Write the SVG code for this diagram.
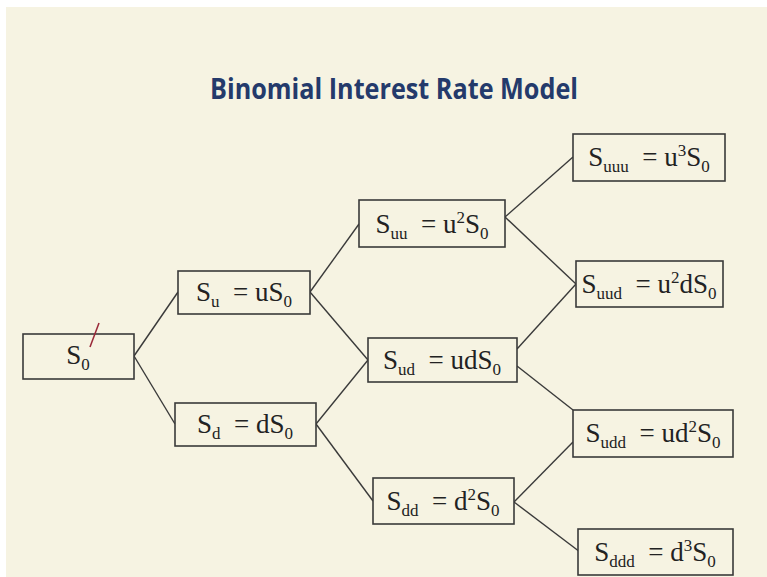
<svg xmlns="http://www.w3.org/2000/svg" width="767" height="577" viewBox="0 0 767 577">
<style>
.bg{fill:#f6f3e2}
.box{fill:#f6f3e2;stroke:#3a3a3a;stroke-width:1.6}
.t{font-family:"Liberation Serif","Times New Roman",serif;font-size:27px;fill:#222;white-space:pre}
.s{font-size:17px}
.title{font-family:"Open Sans","Liberation Sans",sans-serif;font-weight:700;font-size:28px;fill:#243a6b}
.c line{stroke:#3a3a3a;stroke-width:1.4}
</style>
<rect width="767" height="577" fill="#ffffff"/>
<rect x="6" y="7" width="761" height="570" class="bg"/>
<text class="title" x="394" y="99" text-anchor="middle" textLength="368" lengthAdjust="spacingAndGlyphs">Binomial Interest Rate Model</text>
<g class="c">
<line x1="134" y1="356" x2="178" y2="292"/>
<line x1="134" y1="356" x2="175" y2="424"/>
<line x1="310" y1="292" x2="359" y2="224"/>
<line x1="310" y1="292" x2="368" y2="360"/>
<line x1="316" y1="424" x2="368" y2="360"/>
<line x1="316" y1="424" x2="373" y2="501"/>
<line x1="505" y1="217" x2="573" y2="157"/>
<line x1="505" y1="217" x2="576" y2="284"/>
<line x1="517" y1="349" x2="576" y2="284"/>
<line x1="517" y1="366" x2="573" y2="410"/>
<line x1="514" y1="502" x2="573" y2="442"/>
<line x1="514" y1="502" x2="580" y2="552"/>
</g>
<g id="s0"><rect class="box" x="23" y="334" width="111" height="45"/>
<text class="t" x="78" y="364" text-anchor="middle">S<tspan class="s" dy="6">0</tspan></text>
<line x1="99" y1="323" x2="90" y2="347" stroke="#9a2a3a" stroke-width="1.6"/></g>
<g id="su"><rect class="box" x="178" y="271" width="132" height="43"/>
<text class="t" x="244" y="301" text-anchor="middle">S<tspan class="s" dy="6">u</tspan><tspan dy="-6">  = uS</tspan><tspan class="s" dy="6">0</tspan></text></g>
<g id="sd"><rect class="box" x="175" y="403" width="141" height="43"/>
<text class="t" x="245" y="433" text-anchor="middle">S<tspan class="s" dy="6">d</tspan><tspan dy="-6">  = dS</tspan><tspan class="s" dy="6">0</tspan></text></g>
<g id="suu"><rect class="box" x="359" y="200" width="146" height="47"/>
<text class="t" x="432" y="233" text-anchor="middle">S<tspan class="s" dy="6">uu</tspan><tspan dy="-6">  = u</tspan><tspan class="s" dy="-10">2</tspan><tspan dy="10">S</tspan><tspan class="s" dy="6">0</tspan></text></g>
<g id="sud"><rect class="box" x="368" y="338" width="149" height="44"/>
<text class="t" x="442" y="369" text-anchor="middle">S<tspan class="s" dy="6">ud</tspan><tspan dy="-6">  = udS</tspan><tspan class="s" dy="6">0</tspan></text></g>
<g id="sdd"><rect class="box" x="373" y="478" width="141" height="46"/>
<text class="t" x="443" y="510" text-anchor="middle">S<tspan class="s" dy="6">dd</tspan><tspan dy="-6">  = d</tspan><tspan class="s" dy="-10">2</tspan><tspan dy="10">S</tspan><tspan class="s" dy="6">0</tspan></text></g>
<g id="suuu"><rect class="box" x="573" y="134" width="152" height="47"/>
<text class="t" x="649" y="166" text-anchor="middle">S<tspan class="s" dy="6">uuu</tspan><tspan dy="-6">  = u</tspan><tspan class="s" dy="-10">3</tspan><tspan dy="10">S</tspan><tspan class="s" dy="6">0</tspan></text></g>
<g id="suud"><rect class="box" x="576" y="261" width="147" height="46"/>
<text class="t" x="649" y="293" text-anchor="middle">S<tspan class="s" dy="6">uud</tspan><tspan dy="-6">  = u</tspan><tspan class="s" dy="-10">2</tspan><tspan dy="10">dS</tspan><tspan class="s" dy="6">0</tspan></text></g>
<g id="sudd"><rect class="box" x="573" y="410" width="160" height="47"/>
<text class="t" x="653" y="442" text-anchor="middle">S<tspan class="s" dy="6">udd</tspan><tspan dy="-6">  = ud</tspan><tspan class="s" dy="-10">2</tspan><tspan dy="10">S</tspan><tspan class="s" dy="6">0</tspan></text></g>
<g id="sddd"><rect class="box" x="578" y="529" width="155" height="46"/>
<text class="t" x="655" y="561" text-anchor="middle">S<tspan class="s" dy="6">ddd</tspan><tspan dy="-6">  = d</tspan><tspan class="s" dy="-10">3</tspan><tspan dy="10">S</tspan><tspan class="s" dy="6">0</tspan></text></g>
</svg>
